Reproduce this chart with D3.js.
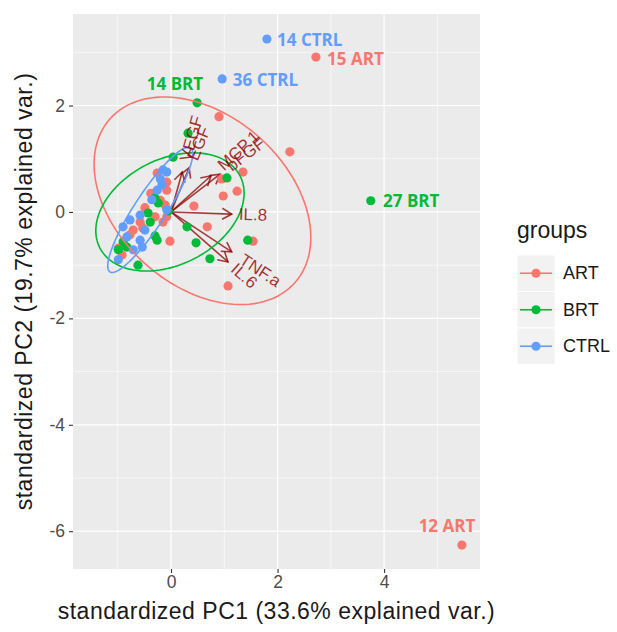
<!DOCTYPE html>
<html>
<head>
<meta charset="utf-8">
<script src="https://cdn.jsdelivr.net/npm/d3@7"></script>
<style>
  body { margin: 0; background: #ffffff; }
  text { font-family: "Liberation Sans", Arial, sans-serif; }
</style>
</head>
<body>
<svg id="chart" width="617" height="632"></svg>
<script>
// ---- PCA scores (standardized PC1, PC2) per group ----
const groups = ["ART", "BRT", "CTRL"];
const groupColors = ["#F8766D", "#00BA38", "#619CFF"];

const artScores = [
  [0.90, 1.79], [2.23, 1.13], [0.95, 0.62], [1.35, 0.75], [1.24, 0.39],
  [0.98, 0.30], [0.43, 0.11], [0.68, -0.28], [-0.02, -0.55], [1.54, -0.55],
  [1.07, -1.39], [2.72, 2.91], [5.46, -6.26], [-0.26, 0.73], [-0.08, 0.56],
  [-0.08, 0.41], [-0.11, 0.13], [-0.49, 0.08], [-0.30, -0.09], [-0.08, -0.09],
  [-0.15, -0.19], [-0.58, -0.19], [-0.71, -0.34], [-0.53, -0.30], [-0.77, -0.43],
  [-0.99, -0.68], [-0.92, -0.81], [-0.38, 0.35], [-0.20, 0.22]
];
const brtScores = [
  [0.49, 2.05], [0.32, 1.48], [0.04, 1.03], [1.05, 0.64], [0.30, -0.28],
  [0.47, -0.58], [0.73, -0.88], [1.44, -0.53], [-0.62, -1.00], [-0.30, -0.45],
  [-0.26, -0.53], [3.75, 0.21], [-0.30, 0.26], [-0.24, 0.17], [-0.43, -0.02],
  [-0.39, -0.19], [-0.90, -0.56], [-0.83, -0.66], [-0.99, -0.71], [-0.05, 0.02]
];
const ctrlScores = [
  [1.80, 3.25], [0.96, 2.50], [-0.08, 0.75], [-0.17, 0.51], [-0.36, 0.23],
  [-0.08, 0.04], [-0.58, -0.06], [-0.77, -0.15], [-0.90, -0.28], [-0.83, -0.47],
  [-0.58, -0.53], [-0.54, -0.66], [-0.71, -0.71], [-0.15, 0.79], [-0.26, 0.41],
  [-0.49, -0.34], [-0.99, -0.90], [-0.20, 0.62]
];

// ---- normal-probability ellipses per group: centre, semi-axes, rotation (deg) ----
const ellipseCenters = [[0.59, 0.21], [-0.02, 0.00], [-0.39, 0.04]];
const ellipseAxes = [[2.32, 1.60], [1.48, 0.99], [1.39, 0.30]];
const ellipseAngles = [-41.6, 27.2, 57.0];

// ---- variable loadings (arrows) ----
const loadingNames = ["VEGF", "EGF", "MCP.1", "bFGF", "IL.8", "TNF.a", "IL.6"];
const loadingPC1 = [0.21, 0.34, 0.75, 0.92, 1.14, 1.14, 1.07];
const loadingPC2 = [0.75, 0.83, 0.68, 0.71, -0.04, -0.75, -0.94];

// ---- sample annotations (data coordinates) ----
const noteText = ["14 CTRL", "15 ART", "36 CTRL", "14 BRT", "27 BRT", "12 ART"];
const noteGroup = [2, 0, 2, 1, 1, 0];
const noteX = [1.99, 2.93, 1.16, 0.075, 3.98, 5.18];
const noteY = [3.25, 2.88, 2.48, 2.42, 0.21, -5.90];
const noteAnchor = ["start", "start", "start", "middle", "start", "middle"];

// ---- axes ----
const xTicks = [0, 2, 4];
const yTicks = [-6, -4, -2, 0, 2];
const xMinor = [-1, 1, 3, 5];
const yMinor = [-5, -3, -1, 1, 3];
const xDomain = [-1.84, 5.80];
const yDomain = [-6.71, 3.72];
const xTitle = "standardized PC1 (33.6% explained var.)";
const yTitle = "standardized PC2 (19.7% explained var.)";
const legendTitle = "groups";

// ---------------------------------------------------------------
const svg = d3.select("#chart");
const panel = { left: 73, right: 480, top: 14, bottom: 569 };

const x = d3.scaleLinear().domain(xDomain).range([panel.left, panel.right]);
const y = d3.scaleLinear().domain(yDomain).range([panel.bottom, panel.top]);
const tickFmt = d => String(d);   // plain hyphen-minus, as in R output

// panel background
svg.append("rect")
  .attr("x", panel.left).attr("y", panel.top)
  .attr("width", panel.right - panel.left)
  .attr("height", panel.bottom - panel.top)
  .attr("fill", "#EBEBEB");

// grid
const grid = svg.append("g");
grid.selectAll(".vminor").data(xMinor).join("line")
  .attr("x1", d => x(d)).attr("x2", d => x(d))
  .attr("y1", panel.top).attr("y2", panel.bottom)
  .attr("stroke", "#fff").attr("stroke-width", 0.6);
grid.selectAll(".hminor").data(yMinor).join("line")
  .attr("y1", d => y(d)).attr("y2", d => y(d))
  .attr("x1", panel.left).attr("x2", panel.right)
  .attr("stroke", "#fff").attr("stroke-width", 0.6);
grid.selectAll(".vmajor").data(xTicks).join("line")
  .attr("x1", d => x(d)).attr("x2", d => x(d))
  .attr("y1", panel.top).attr("y2", panel.bottom)
  .attr("stroke", "#fff").attr("stroke-width", 1.2);
grid.selectAll(".hmajor").data(yTicks).join("line")
  .attr("y1", d => y(d)).attr("y2", d => y(d))
  .attr("x1", panel.left).attr("x2", panel.right)
  .attr("stroke", "#fff").attr("stroke-width", 1.2);

// axes
const xAxis = svg.append("g")
  .attr("transform", `translate(0,${panel.bottom})`)
  .call(d3.axisBottom(x).tickValues(xTicks).tickSize(4).tickPadding(3).tickFormat(tickFmt));
const yAxis = svg.append("g")
  .attr("transform", `translate(${panel.left},0)`)
  .call(d3.axisLeft(y).tickValues(yTicks).tickSize(4).tickPadding(4).tickFormat(tickFmt));
[xAxis, yAxis].forEach(a => {
  a.select(".domain").remove();
  a.selectAll(".tick line").attr("stroke", "#333333").attr("stroke-width", 1.1);
  a.selectAll(".tick text")
    .attr("fill", "#4D4D4D")
    .style("font-family", "'Liberation Sans', Arial, sans-serif")
    .style("font-size", "17.5px");
});

// arrows (loadings)
const arrowColor = "#8B0000";
const ox = x(0), oy = y(0);
const arrows = svg.append("g")
  .attr("stroke", arrowColor).attr("stroke-opacity", 0.75)
  .attr("stroke-width", 1.6).attr("fill", "none");
loadingNames.forEach((name, i) => {
  const tx = x(loadingPC1[i]), ty = y(loadingPC2[i]);
  const ang = Math.atan2(ty - oy, tx - ox);
  const headLen = 11, spread = Math.PI / 6;
  arrows.append("line")
    .attr("x1", ox).attr("y1", oy).attr("x2", tx).attr("y2", ty);
  arrows.append("path")
    .attr("d", `M${tx - headLen * Math.cos(ang - spread)},${ty - headLen * Math.sin(ang - spread)}
                L${tx},${ty}
                L${tx - headLen * Math.cos(ang + spread)},${ty - headLen * Math.sin(ang + spread)}`);
});

// points
const allScores = [artScores, brtScores, ctrlScores];
allScores.forEach((scores, g) => {
  svg.append("g").selectAll("circle").data(scores).join("circle")
    .attr("cx", d => x(d[0])).attr("cy", d => y(d[1]))
    .attr("r", 4.6)
    .attr("fill", groupColors[g]);
});

// ellipses
const ts = d3.range(0, 361, 3).map(d => d * Math.PI / 180);
const ellLine = d3.line().x(d => x(d[0])).y(d => y(d[1]));
groups.forEach((gname, g) => {
  const [cx, cy] = ellipseCenters[g];
  const [a, b] = ellipseAxes[g];
  const th = ellipseAngles[g] * Math.PI / 180;
  const pts = ts.map(t => [
    cx + a * Math.cos(t) * Math.cos(th) - b * Math.sin(t) * Math.sin(th),
    cy + a * Math.cos(t) * Math.sin(th) + b * Math.sin(t) * Math.cos(th)
  ]);
  svg.append("path")
    .attr("d", ellLine(pts))
    .attr("fill", "none")
    .attr("stroke", groupColors[g])
    .attr("stroke-width", 1.6);
});

// loading labels, rotated along each arrow
const labels = svg.append("g");
loadingNames.forEach((name, i) => {
  const tx = x(loadingPC1[i]), ty = y(loadingPC2[i]);
  const deg = Math.atan2(ty - oy, tx - ox) * 180 / Math.PI;
  const t = labels.append("text")
    .attr("transform", `translate(${tx},${ty}) rotate(${deg})`)
    .attr("dominant-baseline", "central")
    .attr("fill", arrowColor).attr("fill-opacity", 0.8)
    .style("font-size", "17px")
    .text(name);
  const w = t.node().getComputedTextLength();
  t.attr("x", 0.25 * w);
});

// sample annotations
noteText.forEach((txt, i) => {
  svg.append("text")
    .attr("x", x(noteX[i])).attr("y", y(noteY[i]))
    .attr("dominant-baseline", "central")
    .attr("text-anchor", noteAnchor[i])
    .attr("fill", groupColors[noteGroup[i]])
    .style("font-family", "'Open Sans', sans-serif")
    .style("font-weight", "bold")
    .style("font-size", "17px")
    .text(txt);
});

// axis titles
svg.append("text")
  .attr("x", (panel.left + panel.right) / 2).attr("y", 619)
  .attr("text-anchor", "middle")
  .attr("fill", "#1A1A1A")
  .style("font-size", "23px").style("letter-spacing", "0.5px")
  .text(xTitle);
svg.append("text")
  .attr("transform", `translate(32,${(panel.top + panel.bottom) / 2}) rotate(-90)`)
  .attr("text-anchor", "middle")
  .attr("fill", "#1A1A1A")
  .style("font-size", "23px").style("letter-spacing", "0.5px")
  .text(yTitle);

// legend
const legend = svg.append("g").attr("transform", "translate(517,0)");
legend.append("text")
  .attr("x", 0).attr("y", 238)
  .attr("fill", "#1A1A1A")
  .style("font-size", "23px")
  .text(legendTitle);
const keySize = 36.5, keyTop = 255;
groups.forEach((gname, g) => {
  const ky = keyTop + g * keySize;
  legend.append("rect")
    .attr("x", 0).attr("y", ky).attr("width", 38).attr("height", keySize)
    .attr("fill", "#F2F2F2").attr("stroke", "#fff").attr("stroke-width", 1);
  legend.append("line")
    .attr("x1", 3).attr("x2", 35)
    .attr("y1", ky + keySize / 2).attr("y2", ky + keySize / 2)
    .attr("stroke", groupColors[g]).attr("stroke-width", 1.6);
  legend.append("circle")
    .attr("cx", 19).attr("cy", ky + keySize / 2).attr("r", 4.6)
    .attr("fill", groupColors[g]);
  legend.append("text")
    .attr("x", 46).attr("y", ky + keySize / 2)
    .attr("dominant-baseline", "central")
    .attr("fill", "#1A1A1A")
    .style("font-size", "18px")
    .text(gname);
});
</script>
</body>
</html>
